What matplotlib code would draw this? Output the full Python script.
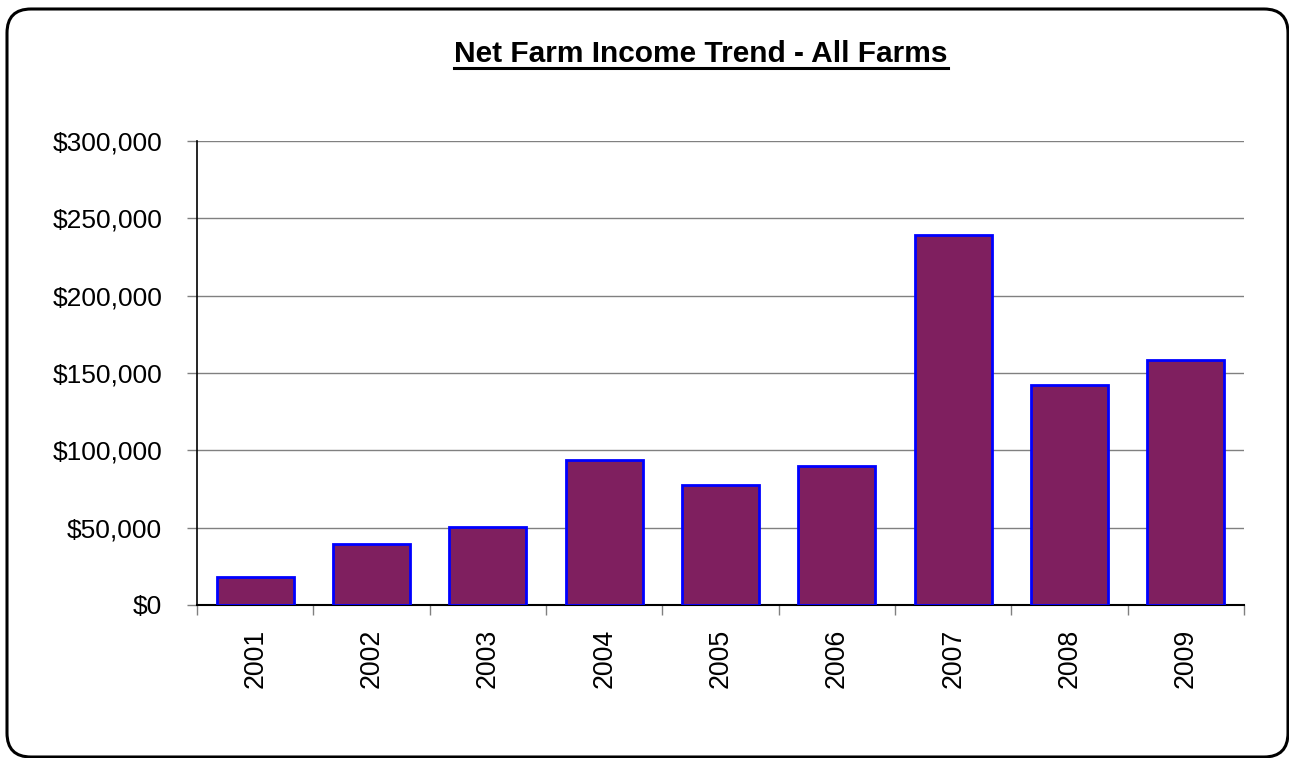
import matplotlib
matplotlib.use('Agg')
import matplotlib.pyplot as plt
from matplotlib.patches import FancyBboxPatch
from matplotlib.lines import Line2D
from matplotlib.transforms import IdentityTransform
from matplotlib.ticker import FuncFormatter, MultipleLocator

plt.rcParams['font.family'] = ['Liberation Sans', 'DejaVu Sans']

years = ['2001', '2002', '2003', '2004', '2005', '2006', '2007', '2008', '2009']
net_income = [18300, 39200, 50300, 94000, 77900, 89700, 239200, 142100, 158700]

W, H = 1289, 758
fig = plt.figure(figsize=(W / 100, H / 100), dpi=100)

# rounded outer frame, in pixel units
frame = FancyBboxPatch((7, 1), 1281, 748,
                       boxstyle='round,pad=0,rounding_size=24',
                       transform=IdentityTransform(), fill=False,
                       edgecolor='black', linewidth=2.2)
fig.patches.append(frame)

ax = fig.add_axes([197 / W, (H - 605) / H, (1244 - 197) / W, 464 / H])
x = list(range(len(years)))
ax.bar(x, net_income, width=0.66, color='#7F1F5F', edgecolor='#0000FF',
       linewidth=2, zorder=3)

ax.set_xlim(-0.5, len(years) - 0.5)
ax.set_ylim(0, 300000)
ax.yaxis.set_major_locator(MultipleLocator(50000))
ax.yaxis.set_major_formatter(FuncFormatter(lambda v, p: '${:,.0f}'.format(v)))
ax.grid(axis='y', color='#808080', linewidth=1, zorder=0)
ax.set_axisbelow(True)

ax.set_xticks([i - 0.5 for i in range(len(years) + 1)], minor=False)
ax.set_xticklabels([])
ax.set_xticks(x, minor=True)
ax.set_xticklabels(years, minor=True, rotation=90, fontsize=19.3)
ax.tick_params(axis='x', which='minor', length=0, pad=17)
ax.tick_params(axis='x', which='major', length=7, width=1, color='#808080', direction='out')
ax.tick_params(axis='y', length=7, width=1, color='#808080', direction='out',
               labelsize=19, pad=18)

for side in ['top', 'right']:
    ax.spines[side].set_visible(False)
ax.spines['left'].set_linewidth(1.2)
ax.spines['bottom'].set_linewidth(1.5)

title = fig.text(701 / W, 1 - 62 / H, 'Net Farm Income Trend - All Farms',
                 ha='center', va='baseline', fontsize=21.5, fontweight='bold')

fig.canvas.draw()
bb = title.get_window_extent().transformed(fig.transFigure.inverted())
uy = 1 - 68 / H
fig.add_artist(Line2D([bb.x0, bb.x1], [uy, uy], transform=fig.transFigure,
                      color='black', linewidth=2.2))

fig.savefig('out.png', dpi=100)
